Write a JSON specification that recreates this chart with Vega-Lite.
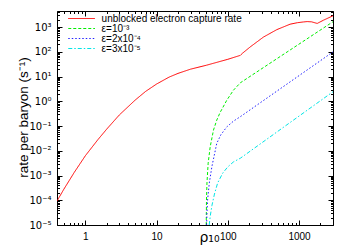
{
  "$schema": "https://vega.github.io/schema/vega-lite/v6.json",
  "width": 276,
  "height": 214,
  "autosize": {"type": "none"},
  "padding": {"left": 57, "top": 11, "right": 17, "bottom": 20},
  "background": "white",
  "data": {"values": [
    {"series": "unblocked electron capture rate", "rho": 0.4, "rate": 9.33e-5},
    {"series": "unblocked electron capture rate", "rho": 0.5, "rate": 2.82e-4},
    {"series": "unblocked electron capture rate", "rho": 0.7, "rate": 1.35e-3},
    {"series": "unblocked electron capture rate", "rho": 1.0, "rate": 6.31e-3},
    {"series": "unblocked electron capture rate", "rho": 1.5, "rate": 0.0282},
    {"series": "unblocked electron capture rate", "rho": 2, "rate": 0.0759},
    {"series": "unblocked electron capture rate", "rho": 3, "rate": 0.282},
    {"series": "unblocked electron capture rate", "rho": 5, "rate": 1.12},
    {"series": "unblocked electron capture rate", "rho": 7, "rate": 2.51},
    {"series": "unblocked electron capture rate", "rho": 10, "rate": 5.01},
    {"series": "unblocked electron capture rate", "rho": 15, "rate": 9.55},
    {"series": "unblocked electron capture rate", "rho": 20, "rate": 13.5},
    {"series": "unblocked electron capture rate", "rho": 30, "rate": 20},
    {"series": "unblocked electron capture rate", "rho": 50, "rate": 28.8},
    {"series": "unblocked electron capture rate", "rho": 100, "rate": 50.1},
    {"series": "unblocked electron capture rate", "rho": 150, "rate": 72.4},
    {"series": "unblocked electron capture rate", "rho": 160, "rate": 87},
    {"series": "unblocked electron capture rate", "rho": 206, "rate": 158},
    {"series": "unblocked electron capture rate", "rho": 317, "rate": 398},
    {"series": "unblocked electron capture rate", "rho": 488, "rate": 794},
    {"series": "unblocked electron capture rate", "rho": 750, "rate": 1318},
    {"series": "unblocked electron capture rate", "rho": 950, "rate": 1514},
    {"series": "unblocked electron capture rate", "rho": 1150, "rate": 1622},
    {"series": "unblocked electron capture rate", "rho": 1300, "rate": 1680},
    {"series": "unblocked electron capture rate", "rho": 1500, "rate": 1641},
    {"series": "unblocked electron capture rate", "rho": 1800, "rate": 1413},
    {"series": "unblocked electron capture rate", "rho": 2200, "rate": 1905},
    {"series": "unblocked electron capture rate", "rho": 3000, "rate": 2884},
    {"series": "ε=10⁻³", "rho": 49.8, "rate": 1e-5},
    {"series": "ε=10⁻³", "rho": 50.2, "rate": 1e-4},
    {"series": "ε=10⁻³", "rho": 51, "rate": 5.0e-4},
    {"series": "ε=10⁻³", "rho": 53, "rate": 3.16e-3},
    {"series": "ε=10⁻³", "rho": 56.6, "rate": 0.0145},
    {"series": "ε=10⁻³", "rho": 63, "rate": 0.0692},
    {"series": "ε=10⁻³", "rho": 70, "rate": 0.174},
    {"series": "ε=10⁻³", "rho": 78, "rate": 0.355},
    {"series": "ε=10⁻³", "rho": 97, "rate": 1.12},
    {"series": "ε=10⁻³", "rho": 120, "rate": 2.82},
    {"series": "ε=10⁻³", "rho": 150, "rate": 5.62},
    {"series": "ε=10⁻³", "rho": 3000, "rate": 1660},
    {"series": "ε=2x10⁻⁴", "rho": 50.4, "rate": 1e-5},
    {"series": "ε=2x10⁻⁴", "rho": 51, "rate": 3.16e-5},
    {"series": "ε=2x10⁻⁴", "rho": 52, "rate": 1e-4},
    {"series": "ε=2x10⁻⁴", "rho": 55, "rate": 5.0e-4},
    {"series": "ε=2x10⁻⁴", "rho": 59.8, "rate": 2.29e-3},
    {"series": "ε=2x10⁻⁴", "rho": 70, "rate": 0.02},
    {"series": "ε=2x10⁻⁴", "rho": 80, "rate": 0.0447},
    {"series": "ε=2x10⁻⁴", "rho": 97, "rate": 0.0933},
    {"series": "ε=2x10⁻⁴", "rho": 120, "rate": 0.158},
    {"series": "ε=2x10⁻⁴", "rho": 150, "rate": 0.24},
    {"series": "ε=2x10⁻⁴", "rho": 3000, "rate": 100},
    {"series": "ε=3x10⁻⁵", "rho": 54.8, "rate": 1e-5},
    {"series": "ε=3x10⁻⁵", "rho": 57, "rate": 2.51e-5},
    {"series": "ε=3x10⁻⁵", "rho": 60, "rate": 6.31e-5},
    {"series": "ε=3x10⁻⁵", "rho": 65, "rate": 1.78e-4},
    {"series": "ε=3x10⁻⁵", "rho": 72, "rate": 5.0e-4},
    {"series": "ε=3x10⁻⁵", "rho": 85, "rate": 1.26e-3},
    {"series": "ε=3x10⁻⁵", "rho": 100, "rate": 2.24e-3},
    {"series": "ε=3x10⁻⁵", "rho": 120, "rate": 3.55e-3},
    {"series": "ε=3x10⁻⁵", "rho": 150, "rate": 5.01e-3},
    {"series": "ε=3x10⁻⁵", "rho": 3000, "rate": 2.45}
  ]},
  "layer": [
    {
      "mark": {"type": "line", "strokeWidth": 1, "clip": true},
      "encoding": {
        "x": {"field": "rho", "type": "quantitative",
          "scale": {"type": "log", "domain": [0.4, 3000], "nice": false},
          "axis": {"orient": "bottom", "values": [1, 10, 100, 1000], "ticks": false, "domain": false,
            "labelPadding": 6, "labelFontSize": 10, "labelFlush": false,
            "labelExpr": "'' + datum.value",
            "title": "ρ₁₀", "titleFontSize": 14, "titleX": 152, "titleY": 16, "titleBaseline": "alphabetic", "titleAlign": "center", "titleFont": "DejaVu Sans"}},
        "y": {"field": "rate", "type": "quantitative",
          "scale": {"type": "log", "domain": [1e-5, 4500], "nice": false},
          "axis": {"orient": "left", "values": [1e-5, 1e-4, 1e-3, 0.01, 0.1, 1, 10, 100, 1000], "ticks": false, "domain": false,
            "labelPadding": 6, "labelFontSize": 10, "labelFlush": false, "labelFont": "DejaVu Sans",
            "labelExpr": "'10' + ['⁻⁵','⁻⁴','⁻³','⁻²','⁻¹','⁰','¹','²','³'][round(log(datum.value)/LN10)+5]",
            "title": "rate per baryon (s⁻¹)", "titleFontSize": 13.5, "titleAngle": 270, "titleX": -30, "titleY": 106, "titleBaseline": "alphabetic", "titleAlign": "center"}},
        "color": {"field": "series", "type": "nominal",
          "scale": {"domain": ["unblocked electron capture rate", "ε=10⁻³", "ε=2x10⁻⁴", "ε=3x10⁻⁵"],
                    "range": ["#ff0000", "#00ee00", "#2222ff", "#00e5e5"]},
          "legend": {"orient": "none", "legendX": 19.6, "legendY": 2.5, "title": null,
            "symbolType": "M-3.814,0H3.814", "symbolSize": 49, "symbolStrokeWidth": 1,
            "labelFontSize": 10, "labelOffset": 15, "symbolOffset": 0, "rowPadding": -0.5, "padding": 0}},
        "strokeDash": {"field": "series", "type": "nominal",
          "scale": {"domain": ["unblocked electron capture rate", "ε=10⁻³", "ε=2x10⁻⁴", "ε=3x10⁻⁵"],
                    "range": [[1, 0], [3, 2], [1.5, 2], [4, 2, 1.5, 2]]},
          "legend": {"orient": "none", "legendX": 19.6, "legendY": 2.5, "title": null,
            "symbolType": "M-3.814,0H3.814", "symbolSize": 49, "symbolStrokeWidth": 1,
            "labelFontSize": 10, "labelOffset": 15, "symbolOffset": 0, "rowPadding": -0.5, "padding": 0}}
      }
    },
    {
      "mark": {"type": "point", "opacity": 0},
      "encoding": {
        "x": {"field": "rho", "type": "quantitative",
          "scale": {"type": "log", "domain": [0.4, 3000], "nice": false},
          "axis": {"orient": "bottom", "labels": false, "domain": false, "title": null, "tickColor": "black", "tickWidth": 1,
            "values": [0.4,0.5,0.6,0.7,0.8,0.9,1,2,3,4,5,6,7,8,9,10,20,30,40,50,60,70,80,90,100,200,300,400,500,600,700,800,900,1000,2000,3000],
            "tickSize": {"condition": {"test": "abs(log(datum.value)/LN10 - round(log(datum.value)/LN10)) < 0.001", "value": -5}, "value": -2.5}}},
        "y": {"field": "rate", "type": "quantitative",
          "scale": {"type": "log", "domain": [1e-5, 4500], "nice": false},
          "axis": {"orient": "left", "labels": false, "domain": false, "title": null, "tickColor": "black", "tickWidth": 1,
            "values": [1e-5,2e-5,3e-5,4e-5,5e-5,6e-5,7e-5,8e-5,9e-5,1e-4,2e-4,3e-4,4e-4,5e-4,6e-4,7e-4,8e-4,9e-4,0.001,0.002,0.003,0.004,0.005,0.006,0.007,0.008,0.009,0.01,0.02,0.03,0.04,0.05,0.06,0.07,0.08,0.09,0.1,0.2,0.3,0.4,0.5,0.6,0.7,0.8,0.9,1,2,3,4,5,6,7,8,9,10,20,30,40,50,60,70,80,90,100,200,300,400,500,600,700,800,900,1000,2000,3000,4000],
            "tickSize": {"condition": {"test": "abs(log(datum.value)/LN10 - round(log(datum.value)/LN10)) < 0.001", "value": -5}, "value": -2.5}}}
      }
    },
    {
      "mark": {"type": "point", "opacity": 0},
      "encoding": {
        "x": {"field": "rho", "type": "quantitative",
          "scale": {"type": "log", "domain": [0.4, 3000], "nice": false},
          "axis": {"orient": "top", "labels": false, "domain": false, "title": null, "tickColor": "black", "tickWidth": 1,
            "values": [0.4,0.5,0.6,0.7,0.8,0.9,1,2,3,4,5,6,7,8,9,10,20,30,40,50,60,70,80,90,100,200,300,400,500,600,700,800,900,1000,2000,3000],
            "tickSize": {"condition": {"test": "abs(log(datum.value)/LN10 - round(log(datum.value)/LN10)) < 0.001", "value": -5}, "value": -2.5}}},
        "y": {"field": "rate", "type": "quantitative",
          "scale": {"type": "log", "domain": [1e-5, 4500], "nice": false},
          "axis": {"orient": "right", "labels": false, "domain": false, "title": null, "tickColor": "black", "tickWidth": 1,
            "values": [1e-5,2e-5,3e-5,4e-5,5e-5,6e-5,7e-5,8e-5,9e-5,1e-4,2e-4,3e-4,4e-4,5e-4,6e-4,7e-4,8e-4,9e-4,0.001,0.002,0.003,0.004,0.005,0.006,0.007,0.008,0.009,0.01,0.02,0.03,0.04,0.05,0.06,0.07,0.08,0.09,0.1,0.2,0.3,0.4,0.5,0.6,0.7,0.8,0.9,1,2,3,4,5,6,7,8,9,10,20,30,40,50,60,70,80,90,100,200,300,400,500,600,700,800,900,1000,2000,3000,4000],
            "tickSize": {"condition": {"test": "abs(log(datum.value)/LN10 - round(log(datum.value)/LN10)) < 0.001", "value": -5}, "value": -2.5}}}
      }
    }
  ],
  "resolve": {"axis": {"x": "independent", "y": "independent"}},
  "config": {
    "view": {"stroke": "black", "strokeWidth": 1},
    "axis": {"grid": false, "labelFont": "Liberation Sans", "titleFont": "Liberation Sans", "labelColor": "black", "titleColor": "black", "titleFontWeight": "normal"},
    "legend": {"labelFont": "Liberation Sans", "labelColor": "black"}
  }
}
